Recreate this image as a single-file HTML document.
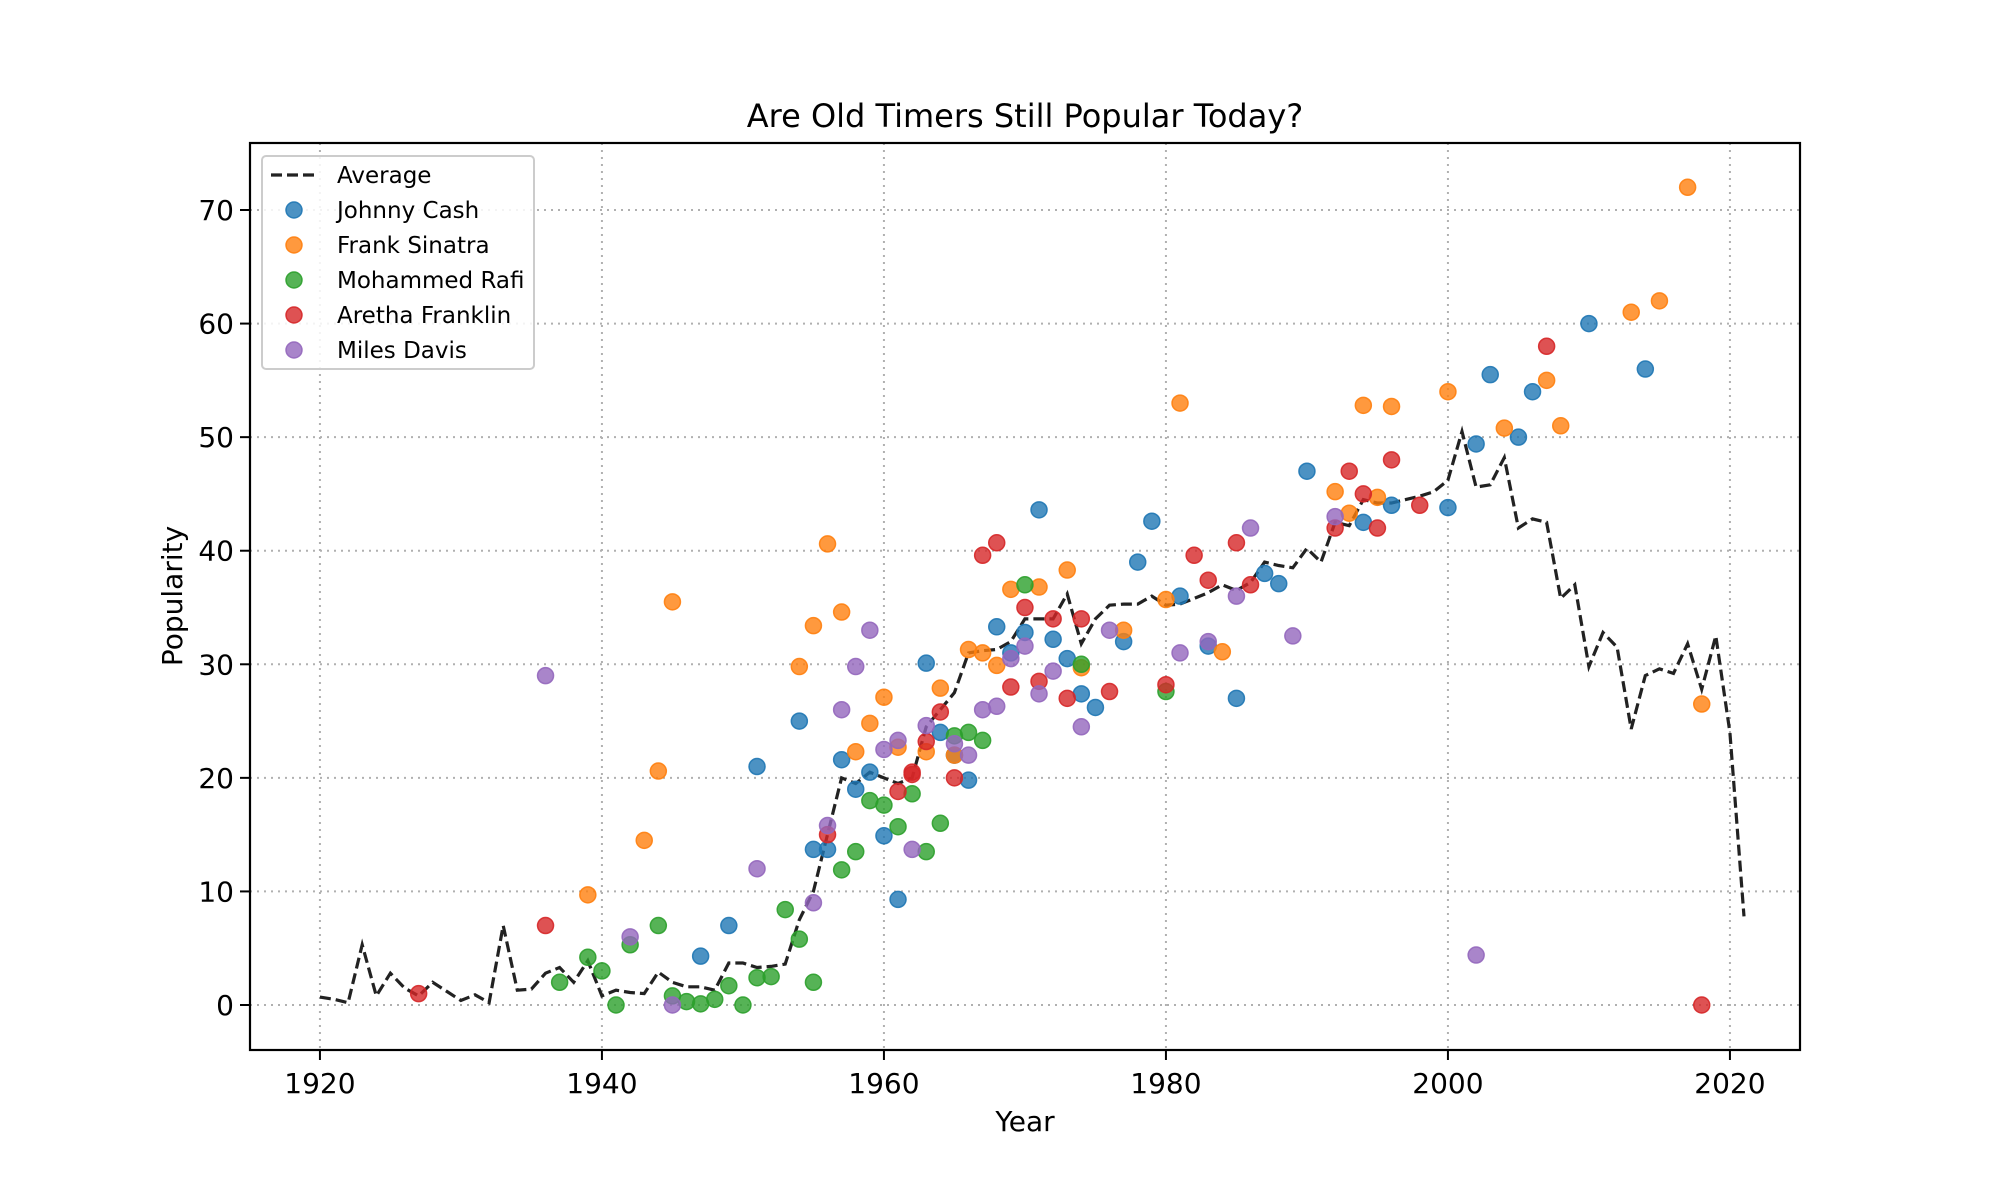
<!DOCTYPE html>
<html><head><meta charset="utf-8"><style>
html,body{margin:0;padding:0;background:#fff;}
svg{display:block;font-family:"DejaVu Sans","Liberation Sans",sans-serif;}
</style></head><body>
<svg id="chart" width="2000" height="1200"></svg>
<script>
const avgYears=[1920,1921,1922,1923,1924,1925,1926,1927,1928,1929,1930,1931,1932,1933,1934,1935,1936,1937,1938,1939,1940,1941,1942,1943,1944,1945,1946,1947,1948,1949,1950,1951,1952,1953,1954,1955,1956,1957,1958,1959,1960,1961,1962,1963,1964,1965,1966,1967,1968,1969,1970,1971,1972,1973,1974,1975,1976,1977,1978,1979,1980,1981,1982,1983,1984,1985,1986,1987,1988,1989,1990,1991,1992,1993,1994,1995,1996,1997,1998,1999,2000,2001,2002,2003,2004,2005,2006,2007,2008,2009,2010,2011,2012,2013,2014,2015,2016,2017,2018,2019,2020,2021];
const avgValues=[0.7,0.5,0.2,5.3,0.8,2.8,1.5,0.8,2,1.2,0.4,0.9,0.2,7,1.3,1.4,2.8,3.3,2,3.9,0.8,1.3,1.1,1,2.9,2,1.6,1.6,1.3,3.7,3.7,3.3,3.4,3.6,7.5,10,15,20,19.5,20.5,20,19.5,20,24.5,26,27.5,31,31.2,31.3,32,34,34,34,36.2,31.8,34,35.2,35.3,35.3,36,35.2,35.3,35.8,36.3,37,36.5,37.2,39,38.7,38.5,40.2,39,42.5,42.2,44.5,44.2,44.2,44.5,44.8,45.2,46.2,50.5,45.6,45.8,48.2,42,42.8,42.5,35.8,37,29.8,32.8,31.5,24.3,29,29.6,29.2,31.8,27.8,32.5,24,7.8];

const cashYears=[1947,1949,1951,1954,1955,1956,1957,1958,1959,1960,1961,1963,1964,1965,1966,1968,1969,1970,1971,1972,1973,1974,1975,1977,1978,1979,1981,1983,1985,1987,1988,1990,1994,1996,2000,2002,2003,2005,2006,2010,2014];
const cashValues=[4.3,7,21,25,13.7,13.7,21.6,19,20.5,14.9,9.3,30.1,24,22,19.8,33.3,31,32.8,43.6,32.2,30.5,27.4,26.2,32,39,42.6,36,31.6,27,38,37.1,47,42.5,44,43.8,49.4,55.5,50,54,60,56];
const sinatraYears=[1939,1943,1944,1945,1954,1955,1956,1957,1958,1959,1960,1961,1963,1964,1965,1966,1967,1968,1969,1971,1973,1974,1977,1980,1981,1984,1992,1993,1994,1995,1996,2000,2004,2007,2008,2013,2015,2017,2018];
const sinatraValues=[9.7,14.5,20.6,35.5,29.8,33.4,40.6,34.6,22.3,24.8,27.1,22.7,22.3,27.9,22,31.3,31,29.9,36.6,36.8,38.3,29.7,33,35.7,53,31.1,45.2,43.3,52.8,44.7,52.7,54,50.8,55,51,61,62,72,26.5];
const rafiYears=[1937,1939,1940,1941,1942,1944,1945,1946,1947,1948,1949,1950,1951,1952,1953,1954,1955,1957,1958,1959,1960,1961,1962,1963,1964,1965,1966,1967,1970,1974,1980];
const rafiValues=[2,4.2,3,0,5.3,7,0.8,0.3,0.1,0.5,1.7,0,2.4,2.5,8.4,5.8,2,11.9,13.5,18,17.6,15.7,18.6,13.5,16,23.7,24,23.3,37,30,27.6];
const arethaYears=[1927,1936,1956,1961,1962,1962,1963,1964,1965,1967,1968,1969,1970,1971,1972,1973,1974,1976,1980,1982,1983,1985,1986,1992,1993,1994,1995,1996,1998,2007,2018];
const arethaValues=[1,7,15,18.8,20.3,20.5,23.2,25.8,20,39.6,40.7,28,35,28.5,34,27,34,27.6,28.2,39.6,37.4,40.7,37,42,47,45,42,48,44,58,0];
const milesYears=[1936,1942,1945,1951,1955,1956,1957,1958,1959,1960,1961,1962,1963,1965,1966,1967,1968,1969,1970,1971,1972,1974,1976,1981,1983,1985,1986,1989,1992,2002];
const milesValues=[29,6,0,12,9,15.8,26,29.8,33,22.5,23.3,13.7,24.6,23,22,26,26.3,30.5,31.6,27.4,29.4,24.5,33,31,32,36,42,32.5,43,4.4];
const xTicks=[1920,1940,1960,1980,2000,2020];
const yTicks=[0,10,20,30,40,50,60,70];
const seriesNames=["Johnny Cash","Frank Sinatra","Mohammed Rafi","Aretha Franklin","Miles Davis"];

const NS="http://www.w3.org/2000/svg";
const svg=document.getElementById('chart');
const L=250,R=1800,T=143,B=1050;
function X(v){return L+(v-1915.04)*14.1;}
function Y(v){return 1005-v*11.357;}
function el(tag,attrs,parent){const e=document.createElementNS(NS,tag);for(const k in attrs)e.setAttribute(k,attrs[k]);(parent||svg).appendChild(e);return e;}

const title=el('text',{x:1025,y:127,'text-anchor':'middle','font-size':32});
title.textContent='Are Old Timers Still Popular Today?';



const grid=el('g',{});


xTicks.forEach(t=>{
  el('line',{x1:X(t),x2:X(t),y1:T,y2:B,stroke:'#b0b0b0','stroke-width':2,'stroke-dasharray':'2,5'},grid);
  const tk=el('line',{x1:X(t),x2:X(t),y1:B,y2:B+10,stroke:'#000','stroke-width':2});
  
  
  const lb=el('text',{x:X(t),y:B+43,'text-anchor':'middle','font-size':28});
  lb.textContent=t;
  
  
});
yTicks.forEach(t=>{
  el('line',{x1:L,x2:R,y1:Y(t),y2:Y(t),stroke:'#b0b0b0','stroke-width':2,'stroke-dasharray':'2,5'},grid);
  const tk=el('line',{x1:L-10,x2:L,y1:Y(t),y2:Y(t),stroke:'#000','stroke-width':2});
  
  
  const lb=el('text',{x:L-16,y:Y(t)+10,'text-anchor':'end','font-size':28});
  lb.textContent=t;
  
  
});

const xl=el('text',{x:1025,y:1131,'text-anchor':'middle','font-size':28});
xl.textContent='Year';


const yl=el('text',{x:0,y:0,'text-anchor':'middle','font-size':28,transform:'translate(182,596) rotate(-90)'});
yl.textContent='Popularity';



const colors=['#1f77b4','#ff7f0e','#2ca02c','#d62728','#9467bd'];
const allX=[cashYears,sinatraYears,rafiYears,arethaYears,milesYears];
const allY=[cashValues,sinatraValues,rafiValues,arethaValues,milesValues];
const avgPts=avgYears.map((y,i)=>X(y).toFixed(1)+','+Y(avgValues[i]).toFixed(1)).join(' ');
const avg=el('polyline',{points:avgPts,fill:'none',stroke:'#222','stroke-width':3.2,'stroke-dasharray':'11,5'});



allX.forEach((xs,s)=>{
  const g=el('g',{});
  
  
  xs.forEach((yr,i)=>{
    const c=el('circle',{cx:X(yr),cy:Y(allY[s][i]),r:8,fill:colors[s],'fill-opacity':0.8,stroke:colors[s],'stroke-opacity':0.9,'stroke-width':1.5},g);
    
    
  });
});

const frame=el('rect',{x:L,y:T,width:R-L,height:B-T,fill:'none',stroke:'#000','stroke-width':2.2});



const lg=el('g',{});


el('rect',{x:262,y:156,width:272,height:213,rx:4,fill:'#fff','fill-opacity':0.85,stroke:'#ccc','stroke-width':2},lg);
const ll=el('line',{x1:271,x2:318,y1:175,y2:175,stroke:'#222','stroke-width':3.2,'stroke-dasharray':'11,5'},lg);


const lt=el('text',{x:337,y:183,'font-size':23},lg);
lt.textContent='Average';


seriesNames.forEach((n,i)=>{
  const yy=210+i*35;
  const c=el('circle',{cx:294,cy:yy,r:8,fill:colors[i],'fill-opacity':0.8,stroke:colors[i],'stroke-opacity':0.9,'stroke-width':1.5},lg);
  
  
  const t=el('text',{x:337,y:yy+8,'font-size':23},lg);
  t.textContent=n;
  
  
});
</script>
</body></html>
